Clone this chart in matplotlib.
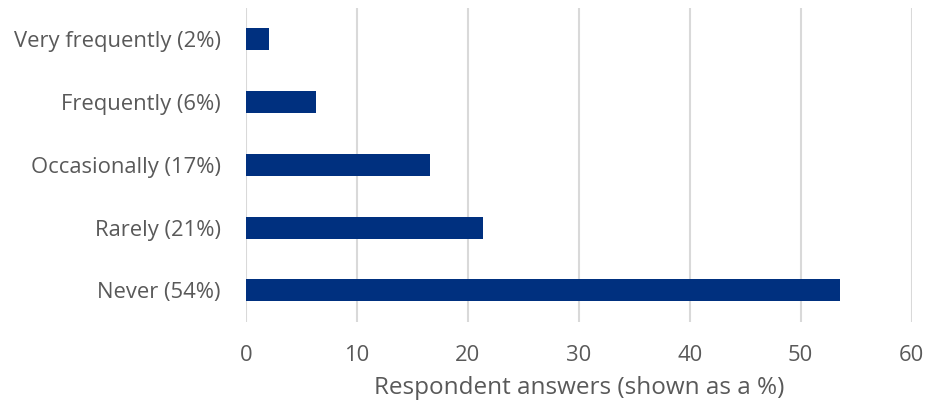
import matplotlib.pyplot as plt

plt.rcParams['font.family'] = ['Open Sans', 'DejaVu Sans']

# Survey responses, top to bottom
categories = ['Very frequently (2%)', 'Frequently (6%)', 'Occasionally (17%)',
              'Rarely (21%)', 'Never (54%)']
values = [2.1, 6.3, 16.6, 21.4, 53.5]
xticks = [0, 10, 20, 30, 40, 50, 60]

fig = plt.figure(figsize=(9.3, 4.08), dpi=100)
ax = fig.add_axes([0.2642, 0.2115, 0.7161, 0.7689])

pos = list(range(len(categories)))[::-1]
ax.barh(pos, values, height=0.35, color='#00307f', zorder=3)

ax.set_xlim(0, 60)
ax.set_ylim(-0.5, len(categories) - 0.5)
ax.set_xticks(xticks)
ax.set_yticks(pos)
ax.set_yticklabels(categories)
ax.grid(axis='x', color='#d9d9d9', linewidth=1.5, zorder=0)
for s in ax.spines.values():
    s.set_visible(False)
ax.tick_params(length=0, labelsize=15.8, colors='#595959')
ax.tick_params(axis='y', pad=18)
ax.tick_params(axis='x', pad=17)
ax.set_xlabel('Respondent answers (shown as a %)', fontsize=17.5, color='#595959', labelpad=7)

fig.savefig('out.png', dpi=100)
